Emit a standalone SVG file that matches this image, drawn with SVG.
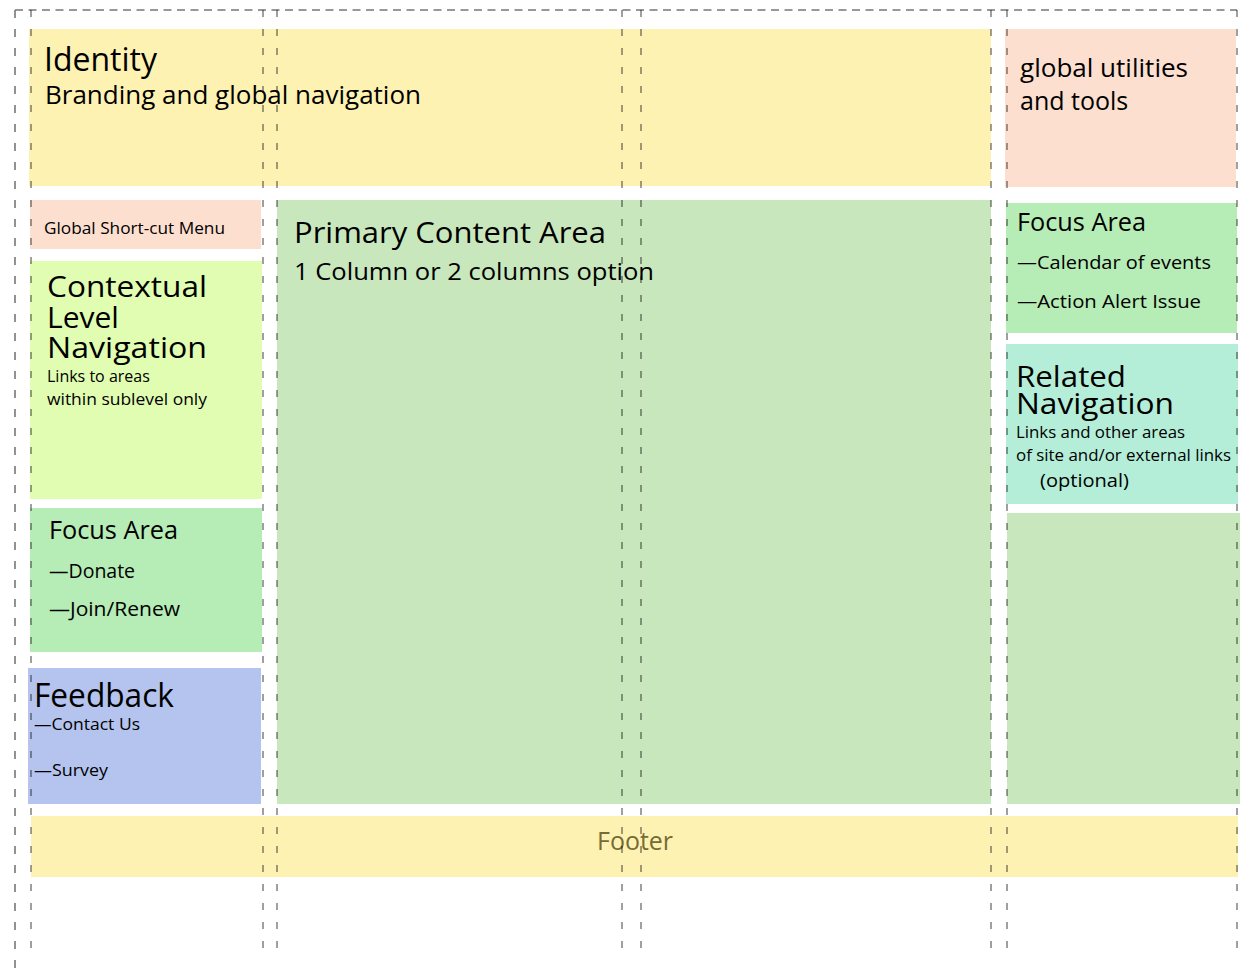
<svg xmlns="http://www.w3.org/2000/svg" width="1248" height="968" viewBox="0 0 1248 968">
<style>
text{font-family:"Open Sans","Noto Sans","Liberation Sans",sans-serif;fill:#000}
.g{stroke:#000;stroke-opacity:.75;stroke-width:1;stroke-dasharray:7 12;fill:none}
.o{stroke:#777;stroke-width:1.6;fill:none}
</style>
<rect width="1248" height="968" fill="#fff"/>
<g id="identity">
<rect x="29" y="29" width="962" height="157" fill="#fef2b3"/>
<text x="44" y="71" font-size="33" textLength="113" lengthAdjust="spacingAndGlyphs">Identity</text>
<text x="45" y="104" font-size="25" textLength="376" lengthAdjust="spacingAndGlyphs">Branding and global navigation</text>
</g>
<g id="global-utilities">
<rect x="1005" y="29" width="231" height="158" fill="#fddfcf"/>
<text x="1020" y="77" font-size="25" textLength="168" lengthAdjust="spacingAndGlyphs">global utilities</text>
<text x="1020" y="110" font-size="25">and tools</text>
</g>
<g id="global-shortcut-menu">
<rect x="30" y="200" width="231" height="49" fill="#fddfcf"/>
<text x="44" y="234" font-size="16.5" textLength="181" lengthAdjust="spacingAndGlyphs">Global Short-cut Menu</text>
</g>
<g id="primary-content">
<rect x="277" y="200" width="714" height="604" fill="#c9e7bd"/>
<text x="294" y="243" font-size="29.5" textLength="312" lengthAdjust="spacingAndGlyphs">Primary Content Area</text>
<text x="294" y="280" font-size="24.5" textLength="360" lengthAdjust="spacingAndGlyphs">1 Column or 2 columns option</text>
</g>
<g id="contextual-navigation">
<rect x="30" y="261" width="232" height="238" fill="#e0fdb1"/>
<text x="47" y="297" font-size="30" textLength="160" lengthAdjust="spacingAndGlyphs">Contextual</text>
<text x="47" y="328" font-size="30">Level</text>
<text x="47" y="358" font-size="30" textLength="160" lengthAdjust="spacingAndGlyphs">Navigation</text>
<text x="47" y="382" font-size="16">Links to areas</text>
<text x="47" y="405" font-size="16" textLength="160" lengthAdjust="spacingAndGlyphs">within sublevel only</text>
</g>
<g id="focus-area-left">
<rect x="30" y="508" width="232" height="144" fill="#b6ecb5"/>
<text x="49" y="539" font-size="25" textLength="129" lengthAdjust="spacingAndGlyphs">Focus Area</text>
<text x="49" y="578" font-size="19.5">—Donate</text>
<text x="49" y="616" font-size="19.5" textLength="131" lengthAdjust="spacingAndGlyphs">—Join/Renew</text>
</g>
<g id="feedback">
<rect x="28" y="668" width="233" height="136" fill="#b4c4ee"/>
<text x="34" y="707" font-size="32" textLength="140" lengthAdjust="spacingAndGlyphs">Feedback</text>
<text x="34" y="730" font-size="16.5" textLength="106" lengthAdjust="spacingAndGlyphs">—Contact Us</text>
<text x="34" y="776" font-size="16.5" textLength="74" lengthAdjust="spacingAndGlyphs">—Survey</text>
</g>
<g id="focus-area-right">
<rect x="1006" y="203" width="231" height="130" fill="#b6ecb5"/>
<text x="1017" y="231" font-size="25" textLength="129" lengthAdjust="spacingAndGlyphs">Focus Area</text>
<text x="1017" y="269" font-size="19" textLength="194" lengthAdjust="spacingAndGlyphs">—Calendar of events</text>
<text x="1017" y="308" font-size="19" textLength="184" lengthAdjust="spacingAndGlyphs">—Action Alert Issue</text>
</g>
<g id="related-navigation">
<rect x="1006" y="344" width="232" height="160" fill="#b4eed9"/>
<text x="1016" y="387" font-size="30" textLength="110" lengthAdjust="spacingAndGlyphs">Related</text>
<text x="1016" y="414" font-size="30" textLength="158" lengthAdjust="spacingAndGlyphs">Navigation</text>
<text x="1016" y="438" font-size="16" textLength="169" lengthAdjust="spacingAndGlyphs">Links and other areas</text>
<text x="1016" y="461" font-size="16" textLength="215" lengthAdjust="spacingAndGlyphs">of site and/or external links</text>
<text x="1040" y="487" font-size="19" textLength="89" lengthAdjust="spacingAndGlyphs">(optional)</text>
</g>
<g id="secondary-content">
<rect x="1007" y="513" width="233" height="291" fill="#c9e7bd"/>
</g>
<g id="footer">
<rect x="31" y="816" width="1207" height="61" fill="#fef2b3"/>
<text x="597" y="850" font-size="25" textLength="76" lengthAdjust="spacingAndGlyphs" style="fill:#776b33">Footer</text>
</g>
<g id="connectors">
<path class="o" d="M15 10H1237" stroke-dasharray="8 5.5"/>
<path class="o" d="M15 10V968" stroke-dasharray="8 11"/>
<path class="g" d="M31 10V958M263 10V958M277 10V958M622 10V958M641 10V958M991 10V958M1007 10V958M1237 10V958"/>
</g>
</svg>
